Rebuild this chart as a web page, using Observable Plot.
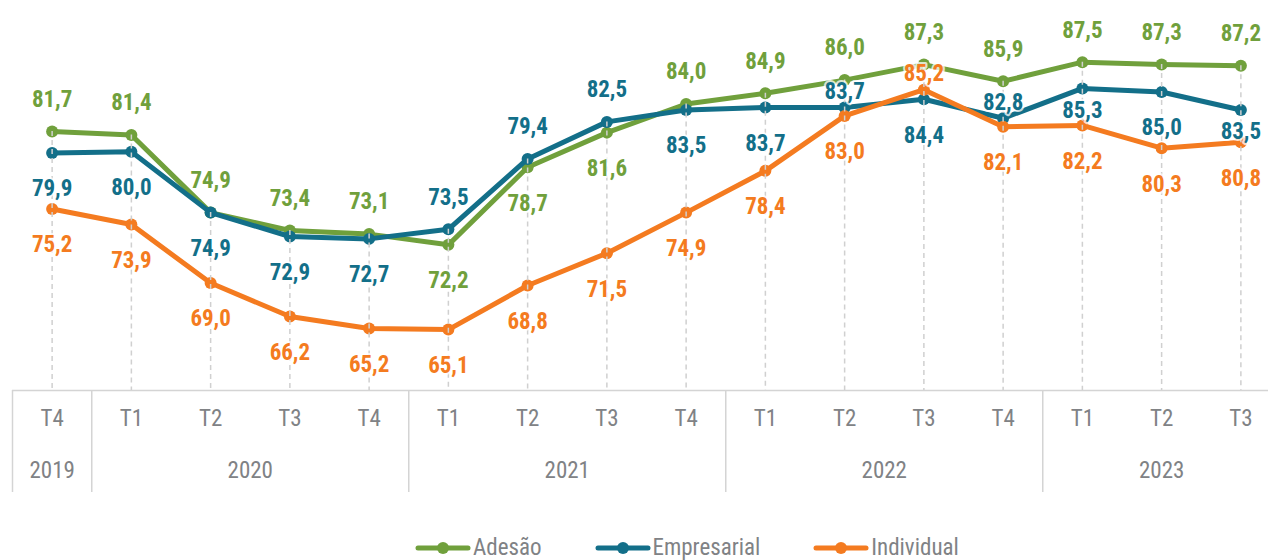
<!DOCTYPE html>
<html>
<head>
<meta charset="utf-8">
<script src="https://cdn.jsdelivr.net/npm/d3@7"></script>
<script src="https://cdn.jsdelivr.net/npm/@observablehq/plot@0.6"></script>
<style>
  html, body { margin: 0; padding: 0; background: #fff; }
  body { width: 1268px; height: 560px; overflow: hidden; position: relative; }
  #legend { position: absolute; top: 536px; left: 415px; display: flex; align-items: center; gap: 53px;
            font-family: 'Liberation Sans Narrow','Arial Narrow','Roboto Condensed','DejaVu Sans Condensed',sans-serif;
            font-size: 23px; color: #808285; height: 24px; line-height: 24px; white-space: nowrap; }
  #legend .item { display: flex; align-items: center; gap: 2px; }
  #legend svg { display: block; }
</style>
</head>
<body>
<div id="chart"></div>
<div id="legend"></div>
<script>
// ---- data ----
const periods = ["T4","T1","T2","T3","T4","T1","T2","T3","T4","T1","T2","T3","T4","T1","T2","T3"];
const years = ["2019","2020","2020","2020","2020","2021","2021","2021","2021","2022","2022","2022","2022","2023","2023","2023"];
const adesao      = [81.7,81.4,74.9,73.4,73.1,72.2,78.7,81.6,84.0,84.9,86.0,87.3,85.9,87.5,87.3,87.2];
const empresarial = [79.9,80.0,74.9,72.9,72.7,73.5,79.4,82.5,83.5,83.7,83.7,84.4,82.8,85.3,85.0,83.5];
const individual  = [75.2,73.9,69.0,66.2,65.2,65.1,68.8,71.5,74.9,78.4,83.0,85.2,82.1,82.2,80.3,80.8];
const seriesNames = ["Adesão","Empresarial","Individual"];
const seriesColors = ["#70a03c","#136f89","#f47b20"];

// ---- derived ----
const FONT = "'Liberation Sans Narrow','Arial Narrow','Roboto Condensed','DejaVu Sans Condensed',sans-serif";
const GREY = "#808285";
const yDomain = [60, 92.5];
const idx = d3.range(periods.length);
const valuesBySeries = [adesao, empresarial, individual];
const fmt = v => v.toFixed(1).replace(".", ",");

const rows = [];
idx.forEach(i => {
  const entries = seriesNames.map((s, k) => ({series: s, k, i, value: valuesBySeries[k][i]}));
  const sorted = entries.slice().sort((a, b) => b.value - a.value || a.k - b.k);
  sorted.forEach((d, r) => {
    if (r === 0) d.dy = -32;
    else if (r === sorted.length - 1) d.dy = 36;
    else {
      const gap = d.value - sorted[r + 1].value;
      d.dy = gap <= 1 ? -16 : gap < 4 ? 22 : 36;
    }
  });
  rows.push(...entries);
});

const groups = d3.groups(idx, i => years[i]);
const yearGroups = groups.map(([year, is]) => ({year, x: d3.mean(is)}));
const boundaries = groups.map(([, is]) => is[0] - 0.5);

const marks = [
  Plot.ruleY([yDomain[0]], {stroke: "#d4d4d4", strokeWidth: 1.5}),
  Plot.axisX(boundaries, {tickSize: 102, tickFormat: () => "", stroke: "#d4d4d4", strokeWidth: 1.5}),
  Plot.text(idx, {x: d => d, text: i => periods[i], frameAnchor: "bottom", dy: 35,
                  fontSize: 23, fill: GREY}),
  Plot.text(yearGroups, {x: "x", text: "year", frameAnchor: "bottom", dy: 87,
                         fontSize: 23, fill: GREY})
];
seriesNames.forEach(s => {
  const data = rows.filter(d => d.series === s);
  marks.push(Plot.line(data, {x: "i", y: "value", stroke: "series", strokeWidth: 5, strokeLinejoin: "round"}));
  marks.push(Plot.dot(data, {x: "i", y: "value", fill: "series", r: 6}));
});
marks.push(Plot.ruleX(idx, {x: d => d, y1: i => Math.max(adesao[i], empresarial[i], individual[i]),
                            y2: yDomain[0], stroke: "#d0d0d0", strokeWidth: 1.5, strokeDasharray: "5,4"}));
[-32, -16, 22, 36].forEach(k => {
  marks.push(Plot.text(rows.filter(d => d.dy === k), {
    x: "i", y: "value", text: d => fmt(d.value), fill: "series", dy: k,
    fontSize: 23, fontWeight: "bold", stroke: "white", strokeWidth: 4, strokeOpacity: 0.75
  }));
});

const chart = Plot.plot({
  width: 1268, height: 500,
  marginLeft: 12, marginRight: -12, marginTop: 2, marginBottom: 110,
  x: {type: "linear", domain: [-0.5, 15.5], axis: null},
  y: {domain: yDomain, axis: null},
  color: {domain: seriesNames, range: seriesColors},
  style: {fontFamily: FONT, background: "white", overflow: "visible"},
  marks
});
document.getElementById("chart").appendChild(chart);

// ---- legend ----
const legend = document.getElementById("legend");
seriesNames.forEach((s, k) => {
  const item = document.createElement("div");
  item.className = "item";
  item.innerHTML = `<svg width="56" height="14"><line x1="3" y1="7" x2="53" y2="7" stroke="${seriesColors[k]}" stroke-width="5" stroke-linecap="round"/><circle cx="28" cy="7" r="6" fill="${seriesColors[k]}"/></svg><span>${s}</span>`;
  legend.appendChild(item);
});
</script>
</body>
</html>
